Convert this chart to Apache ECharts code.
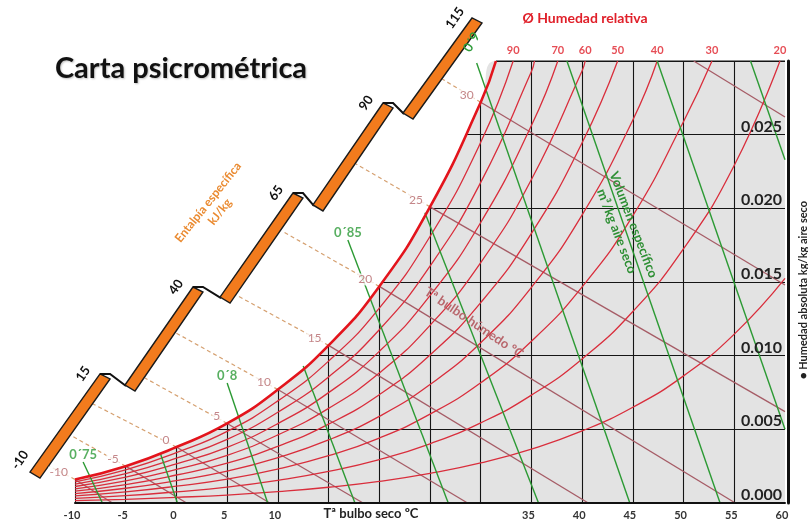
<!DOCTYPE html>
<html>
<head>
<meta charset="utf-8">
<title>Carta psicrométrica</title>
<script src="https://cdn.jsdelivr.net/npm/echarts@6/dist/echarts.min.js"></script>
<style>
  html, body { margin: 0; padding: 0; background: #ffffff; }
  #chart { width: 808px; height: 522px; }
</style>
</head>
<body>
<div id="chart"></div>
<script>
// ---------- chart data ----------
// Dry-bulb temperatures (°C) that carry a tick label
const dryBulbTicks = [-10, -5, 0, 5, 10, 35, 40, 45, 50, 55, 60];
// Humidity ratio ticks (kg/kg dry air) and their labels
const humidityTicks = [0, 0.005, 0.010, 0.015, 0.020, 0.025];
const humidityLabels = ['0.000', '0.005', '0.010', '0.015', '0.020', '0.025'];

// Saturation curve (100 % RH): [dry bulb °C, humidity ratio kg/kg]
const saturation = [[-10,0.0016],[-5,0.0025],[0,0.0038],[5,0.0054],[10,0.0077],[15,0.0107],[20,0.0147],[25,0.0201],[30,0.0272],[31.5,0.030]];
// Relative humidity curves
const rh90 = [[-10,0.00144],[-5,0.00225],[0,0.00342],[5,0.00486],[10,0.00693],[15,0.00963],[20,0.01323],[25,0.01809],[30,0.02448],[33.2,0.030]];
const rh80 = [[-10,0.00128],[-5,0.0020],[0,0.00304],[5,0.00432],[10,0.00616],[15,0.00856],[20,0.01176],[25,0.01608],[30,0.02176],[35,0.02928],[35.3,0.030]];
const rh70 = [[-10,0.00112],[-5,0.00175],[0,0.00266],[5,0.00378],[10,0.00539],[15,0.00749],[20,0.01029],[25,0.01407],[30,0.01904],[35,0.02562],[37.6,0.030]];
const rh60 = [[-10,0.00096],[-5,0.0015],[0,0.00228],[5,0.00324],[10,0.00462],[15,0.00642],[20,0.00882],[25,0.01206],[30,0.01632],[35,0.02196],[40,0.02934],[40.3,0.030]];
const rh50 = [[-10,0.0008],[-5,0.00125],[0,0.0019],[5,0.0027],[10,0.00385],[15,0.00535],[20,0.00735],[25,0.01005],[30,0.0136],[35,0.0183],[40,0.02445],[43.5,0.030]];
const rh40 = [[-10,0.00064],[-5,0.001],[0,0.00152],[5,0.00216],[10,0.00308],[15,0.00428],[20,0.00588],[25,0.00804],[30,0.01088],[35,0.01464],[40,0.01956],[45,0.026],[47.4,0.030]];
const rh30 = [[-10,0.00048],[-5,0.00075],[0,0.00114],[5,0.00162],[10,0.00231],[15,0.00321],[20,0.00441],[25,0.00603],[30,0.00816],[35,0.01098],[40,0.01467],[45,0.0195],[50,0.02589],[52.8,0.030]];
const rh20 = [[-10,0.00032],[-5,0.0005],[0,0.00076],[5,0.00108],[10,0.00154],[15,0.00214],[20,0.00294],[25,0.00402],[30,0.00544],[35,0.00732],[40,0.00978],[45,0.013],[50,0.01726],[55,0.02292],[59.5,0.030]];
const rh10 = [[-10,0.00016],[-5,0.00025],[0,0.00038],[5,0.00054],[10,0.00077],[15,0.00107],[20,0.00147],[25,0.00201],[30,0.00272],[35,0.00366],[40,0.00489],[45,0.0065],[50,0.00863],[55,0.01146],[60,0.01524]];
const rhCurves = [rh90, rh80, rh70, rh60, rh50, rh40, rh30, rh20, rh10];
const rhLabels = ['90', '', '70', '60', '50', '40', '30', '20', ''];

// Wet-bulb temperatures (°C) marked on the saturation curve
const wetBulbTemps = [-10, -5, 0, 5, 10, 15, 20, 25, 30];
// Where each wet-bulb line leaves the chart (bottom or right edge)
const wetBulbEnd = [[-6.3,0],[1.0,0],[9.2,0],[18.4,0],[28.7,0],[40.6,0],[55.1,0],[60,0.0062],[60,0.0148]];
// The 35 °C wet-bulb line enters through the top edge
const wetBulbTop = [[51.0,0.030],[60,0.0262]];
// Where the dashed enthalpy lines meet the enthalpy scale
const enthalpyEnd = [[-12.56,0.00251],[-10.49,0.00462],[-8.22,0.00672],[-3.10,0.00848],[-0.04,0.01154],[5.88,0.01412],[10.41,0.01846],[17.70,0.02301],[26.19,0.02878]];

// Specific enthalpy scale (kJ/kg): stepped bars, one per 25 kJ/kg
const enthalpyTicks = [-10, 15, 40, 65, 90, 115];
const enthalpyBarStart = [[-14.44,0.0021],[-5.07,0.00801],[4.30,0.01398],[13.46,0.02023],[22.34,0.02647]];
const enthalpyBarEnd = [[-7.53,0.00876],[1.63,0.01466],[11.49,0.02104],[20.37,0.02715],[29.14,0.03292]];

// Specific volume lines (m³/kg dry air): upper and lower end points
const volumeStart = [[-9.2,0.00278],[-1.6,0.0034],[5.0,0.00814],[12.5,0.0093],[16.9,0.01785],[24.5,0.0197],[29.6,0.02986],[38.5,0.030],[47.4,0.030],[56.6,0.030]];
const volumeEnd = [[-7.3,0],[0.1,0],[9.0,0],[17.6,0],[26.8,0],[35.7,0],[44.7,0],[53.6,0],[60,0.0050],[60,0.0233]];
const volumeLabels = ['0´75', '', '0´8', '', '0´85', '', '0´9', '', '', ''];

// Grid: vertical lines stop at the saturation curve, horizontal ones start there
const vGridTemps = [-10, -5, 0, 5, 10, 15, 20, 25, 30, 35, 40, 45, 50, 55];
const hGridW = [0.005, 0.010, 0.015, 0.020, 0.025, 0.030];
const hGridStartT = [3.9, 14.0, 20.2, 24.9, 28.6, 31.5];

// ---------- build ----------
const FONT = 'Lato, "Open Sans", sans-serif';
const TOP_W = 0.030;
const SMOOTH = 0.5;
const ROTATED_VOLUME_LABEL = 6;   // the label at the top edge is set along its line
const satLookup = {};
saturation.forEach(p => { satLookup[p[0]] = p[1]; });

const gridLines = [];
vGridTemps.forEach(t => {
  const top = (t in satLookup) ? satLookup[t] : TOP_W;
  gridLines.push({ coords: [[t, 0], [t, top]] });
});
hGridW.forEach((w, i) => {
  const item = { coords: [[hGridStartT[i], w], [60, w]] };
  if (w === TOP_W) item.lineStyle = { width: 1.8 };
  gridLines.push(item);
});

const wetBulbSolid = wetBulbTemps.map((t, i) => ({ coords: [saturation[i], wetBulbEnd[i]] }));
wetBulbSolid.push({ coords: [wetBulbTop[0], wetBulbTop[1]] });
const enthalpyDashed = wetBulbTemps.map((t, i) => ({ coords: [saturation[i], enthalpyEnd[i]] }));
const volumeLines = volumeStart.map((p, i) => ({ coords: [p, volumeEnd[i]] }));

const fillOutline = saturation.concat([[60, TOP_W]]);

const centred = { align: 'center', verticalAlign: 'middle', textAlign: 'center', textVerticalAlign: 'middle' };

const series = [];

// grey field under the saturation curve
series.push({
  type: 'line', data: fillOutline, smooth: SMOOTH,
  symbol: 'none', lineStyle: { width: 0 }, areaStyle: { color: '#e3e3e3', opacity: 1 },
  silent: true, z: 1
});
// grid lines
series.push({
  type: 'lines', coordinateSystem: 'cartesian2d', data: gridLines, silent: true, z: 2,
  lineStyle: { color: '#151515', width: 1.1, opacity: 1 }
});
// wet-bulb lines inside the field
series.push({
  type: 'lines', coordinateSystem: 'cartesian2d', data: wetBulbSolid, silent: true, z: 3,
  lineStyle: { color: '#a65c66', width: 1.3, opacity: 1 }
});
// relative humidity curves
rhCurves.forEach(c => {
  series.push({
    type: 'line', data: c, smooth: SMOOTH, symbol: 'none', silent: true, z: 4,
    lineStyle: { color: '#d92e3c', width: 1.3 }
  });
});
// specific volume lines
series.push({
  type: 'lines', coordinateSystem: 'cartesian2d', data: volumeLines, silent: true, z: 5, clip: false,
  lineStyle: { color: '#2c9a34', width: 1.4, opacity: 1 }
});
// saturation curve
series.push({
  type: 'line', data: saturation, smooth: SMOOTH, symbol: 'none', silent: true, z: 6,
  lineStyle: { color: '#e3141c', width: 2.6 }
});
// dashed enthalpy lines reaching the scale
series.push({
  type: 'lines', coordinateSystem: 'cartesian2d', data: enthalpyDashed, silent: true, z: 3, clip: false,
  lineStyle: { color: '#d5a070', width: 1.2, type: [4, 3], opacity: 1 }
});
// stepped enthalpy scale
series.push({
  type: 'custom', coordinateSystem: 'cartesian2d', clip: false, silent: true, z: 7,
  data: enthalpyBarStart.map((s, i) => [s[0], s[1], enthalpyBarEnd[i][0], enthalpyBarEnd[i][1]]),
  encode: { x: [0, 2], y: [1, 3] },
  renderItem: function (params, api) {
    const i = params.dataIndex;
    const s = api.coord([api.value(0), api.value(1)]);
    const e = api.coord([api.value(2), api.value(3)]);
    const children = [];
    children.push({
      type: 'polygon',
      shape: { points: [[s[0], s[1]], [e[0], e[1]], [e[0] + 10, e[1] + 5], [s[0] + 10, s[1] + 6]] },
      style: { fill: '#f27b1d', stroke: '#1a1a1a', lineWidth: 1.4 }
    });
    if (i < enthalpyBarStart.length - 1) {
      const ns = api.coord(enthalpyBarStart[i + 1]);
      children.push({
        type: 'polyline',
        shape: { points: [[e[0], e[1]], [e[0] + 10, e[1]], [ns[0] + 1, ns[1] + 1]] },
        style: { stroke: '#111', lineWidth: 2, fill: 'none' }
      });
    }
    const tick = (x, y, v) => ({
      type: 'text', x: x, y: y, rotation: 55 * Math.PI / 180,
      style: Object.assign({ text: String(v), font: 'bold 13px ' + FONT, fill: '#111' }, centred)
    });
    if (i === 0) children.push(tick(s[0] - 10, s[1] - 12, enthalpyTicks[0]));
    children.push(tick(e[0] - 17, e[1], enthalpyTicks[i + 1]));
    return { type: 'group', children: children };
  }
});
// wet-bulb labels on the saturation curve
series.push({
  type: 'scatter', data: saturation.slice(0, wetBulbTemps.length), symbolSize: 0, silent: true, z: 8, clip: false,
  label: {
    show: true, position: 'left', distance: 6, offset: [0, -7],
    formatter: p => String(wetBulbTemps[p.dataIndex]),
    color: '#b5686c', fontSize: 12, fontFamily: FONT, backgroundColor: '#ffffff', padding: [0, 1]
  }
});
// relative humidity labels along the top edge
series.push({
  type: 'scatter', symbolSize: 0, silent: true, z: 8, clip: false,
  data: rhCurves.map(c => c[c.length - 1]),
  label: {
    show: true, position: 'top', distance: 5,
    formatter: p => rhLabels[p.dataIndex],
    color: '#e0202a', fontSize: 11, fontWeight: 'bold', fontFamily: FONT
  }
});
// specific volume labels (upright ones)
series.push({
  type: 'scatter', symbolSize: 0, silent: true, z: 8, clip: false,
  data: volumeStart.map((p, i) => ({ value: p, name: volumeLabels[i] }))
    .filter((d, i) => d.name !== '' && i !== ROTATED_VOLUME_LABEL),
  label: {
    show: true, position: 'top', distance: 1, formatter: p => p.name,
    color: '#2e9b3a', fontSize: 13, fontWeight: 'bold', fontFamily: FONT
  }
});
// specific volume label set along its line
series.push({
  type: 'custom', coordinateSystem: 'cartesian2d', clip: false, silent: true, z: 8,
  data: [volumeStart[ROTATED_VOLUME_LABEL]],
  renderItem: function (params, api) {
    const p = api.coord([api.value(0), api.value(1)]);
    return {
      type: 'text', x: p[0] - 5, y: p[1] - 21, rotation: 60 * Math.PI / 180,
      style: Object.assign({ text: volumeLabels[ROTATED_VOLUME_LABEL], font: 'bold 13px ' + FONT, fill: '#2e9b3a' }, centred)
    };
  }
});

const option = {
  animation: false,
  backgroundColor: '#ffffff',
  grid: { left: 75, right: 23, top: 61, bottom: 19, containLabel: false },
  xAxis: {
    type: 'value', min: -10, max: 60, interval: 5, z: 10,
    axisLine: { show: true, onZero: false, lineStyle: { color: '#111', width: 2 } },
    axisTick: { show: false }, splitLine: { show: false },
    axisLabel: {
      margin: 7, fontSize: 11, fontWeight: 'bold', color: '#333', fontFamily: FONT, padding: [0, 6, 0, 0],
      formatter: v => (dryBulbTicks.indexOf(v) >= 0 ? String(v) : '')
    }
  },
  yAxis: {
    type: 'value', position: 'right', min: 0, max: TOP_W, interval: 0.005, offset: 3, z: 10,
    axisLine: { show: true, onZero: false, lineStyle: { color: '#111', width: 3 } },
    axisTick: { show: false }, splitLine: { show: false },
    axisLabel: {
      inside: true, margin: 6, fontSize: 16, fontWeight: 'bold', color: '#222', fontFamily: FONT,
      verticalAlign: 'bottom', showMaxLabel: false,
      formatter: v => {
        const i = humidityTicks.findIndex(t => Math.abs(t - v) < 1e-9);
        return i >= 0 ? humidityLabels[i] : '';
      }
    }
  },
  graphic: [
    { type: 'text', x: 181, y: 69, z: 10,
      style: Object.assign({ text: 'Carta psicrométrica', font: 'bold 29px ' + FONT, fill: '#111',
               textShadowColor: 'rgba(0,0,0,0.25)', textShadowBlur: 2, textShadowOffsetX: 1, textShadowOffsetY: 1 }, centred) },
    { type: 'text', x: 585, y: 18, z: 10,
      style: Object.assign({ text: 'Ø Humedad relativa', font: 'bold 14px ' + FONT, fill: '#e0202a' }, centred) },
    { type: 'text', x: 214, y: 207, z: 10, rotation: 51.5 * Math.PI / 180,
      style: Object.assign({ text: 'Entalpía específica\nkJ/kg', font: 'bold 12px ' + FONT, fill: '#ea8a30', lineHeight: 15 }, centred) },
    { type: 'text', x: 371, y: 514, z: 10,
      style: Object.assign({ text: 'Tª bulbo seco ºC', font: 'bold 13px ' + FONT, fill: '#222' }, centred) },
    { type: 'text', x: 803, y: 290, z: 10, rotation: Math.PI / 2,
      style: Object.assign({ text: '● Humedad absoluta kg/kg aire seco', font: 'bold 11px ' + FONT, fill: '#222' }, centred) },
    { type: 'text', x: 474, y: 323, z: 10, rotation: -34 * Math.PI / 180,
      style: Object.assign({ text: 'Tª bulbo húmedo ºC', font: 'bold 13px ' + FONT, fill: '#b8666c' }, centred) },
    { type: 'text', x: 625, y: 228, z: 10, rotation: -69 * Math.PI / 180,
      style: Object.assign({ text: 'Volumen específico\nm³/kg aire seco', font: 'bold 13px ' + FONT, fill: '#2e8f34', lineHeight: 18 }, centred) }
  ],
  series: series
};

const chart = echarts.init(document.getElementById('chart'));
chart.setOption(option);
</script>
</body>
</html>
